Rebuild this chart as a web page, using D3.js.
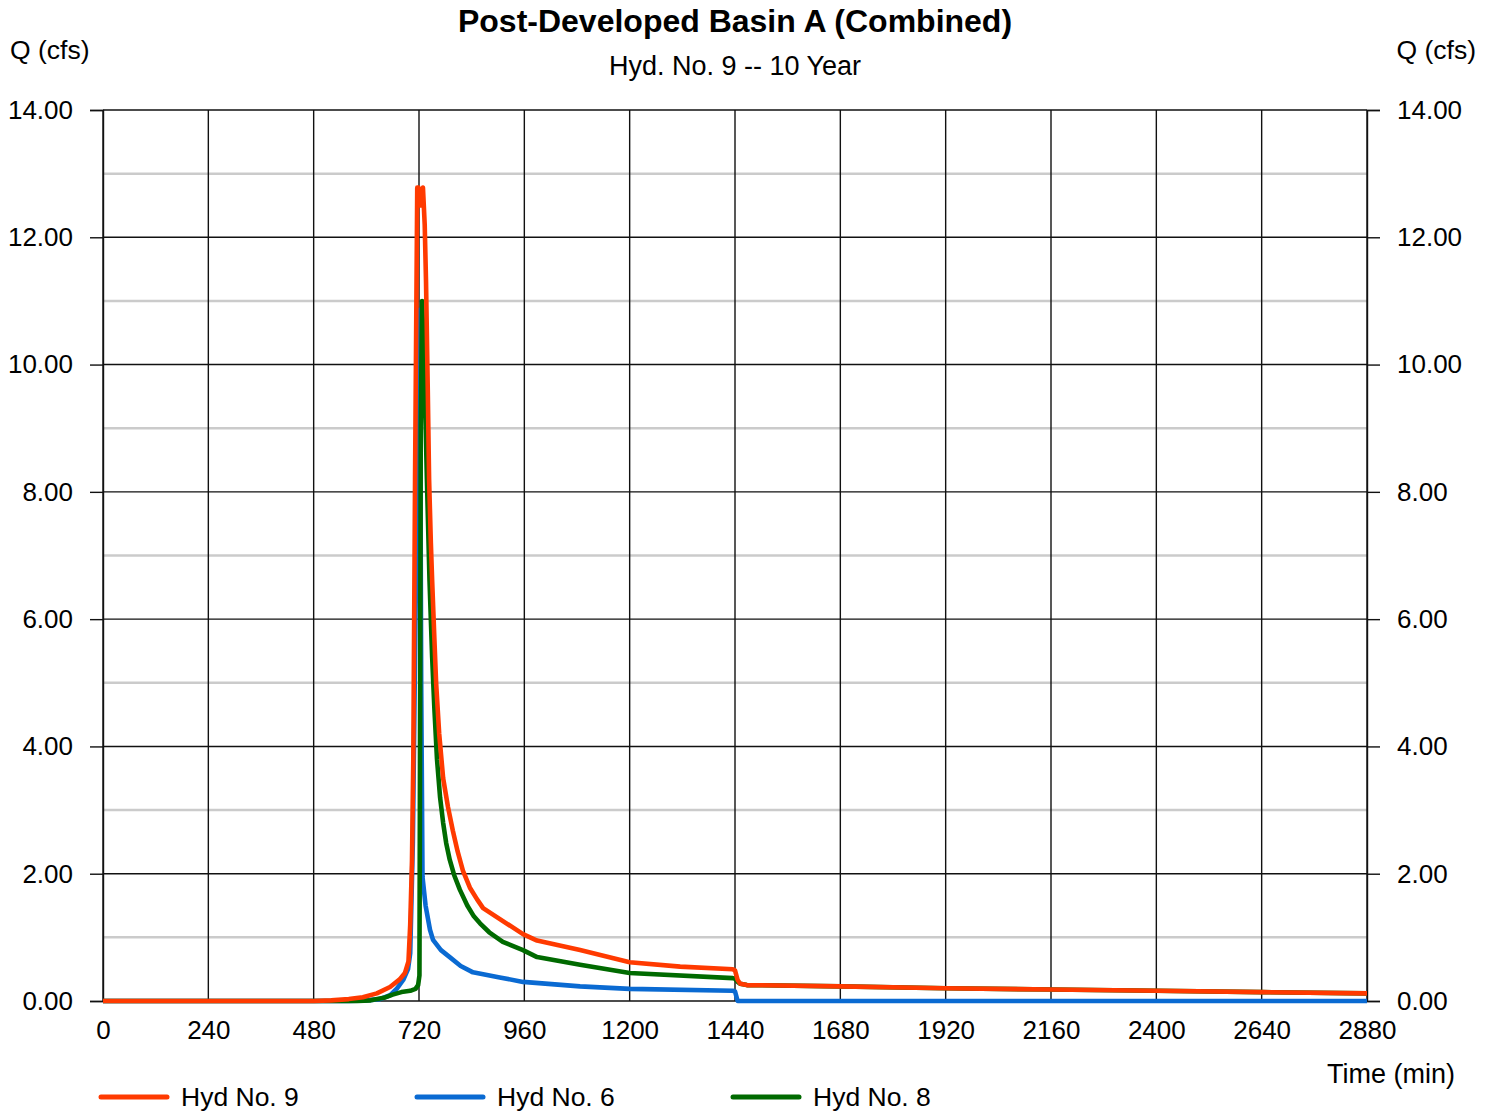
<!DOCTYPE html>
<html>
<head>
<meta charset="utf-8">
<script src="https://cdn.jsdelivr.net/npm/d3@7"></script>
<style>
  html, body { margin: 0; padding: 0; background: #fff; }
  svg { display: block; }
  text { font-family: "Liberation Sans", Arial, sans-serif; fill: #000; }
</style>
</head>
<body>
<svg id="chart" width="1494" height="1112"></svg>
<script>
const titleText = "Post-Developed Basin A (Combined)";
const subtitleText = "Hyd. No. 9 -- 10 Year";
const yAxisLabel = "Q (cfs)";
const xAxisLabel = "Time (min)";
const xTicks = [0, 240, 480, 720, 960, 1200, 1440, 1680, 1920, 2160, 2400, 2640, 2880];
const yMajorTicks = [0, 2, 4, 6, 8, 10, 12, 14];
const yMinorTicks = [1, 3, 5, 7, 9, 11, 13];
const seriesNames = ["Hyd No. 9", "Hyd No. 6", "Hyd No. 8"];
const seriesColors = ["#ff3a00", "#0a6ad2", "#006a00"];

// [time (min), Q (cfs)]
const hyd9 = [[0,0],[480,0],[520,0.01],[560,0.03],[592,0.06],[624,0.12],[654,0.22],[676,0.34],[688,0.44],[696,0.62],[700,1.2],[704,2.2],[707,3.8],[711,8.2],[716,12.78],[719,12.78],[723,12.5],[729,12.78],[733,12.2],[736,11.3],[740,9.6],[743,8.2],[747,7.2],[750,6.6],[755,5.7],[759,5.0],[766,4.2],[775,3.5],[786,3.05],[797,2.68],[808,2.35],[820,2.05],[836,1.78],[852,1.6],[866,1.46],[957,1.05],[989,0.95],[1087,0.8],[1200,0.61],[1315,0.54],[1435,0.5],[1440,0.48],[1446,0.33],[1452,0.27],[1467,0.25],[1680,0.23],[1920,0.2],[2160,0.18],[2400,0.16],[2640,0.14],[2880,0.12]];
const hyd6 = [[0,0],[560,0],[600,0.01],[631,0.03],[654,0.09],[670,0.2],[684,0.33],[695,0.5],[700,0.75],[706,2.5],[712,6.0],[718,9.6],[722,10.86],[725,5.0],[728,1.95],[735,1.5],[745,1.12],[752,0.96],[770,0.8],[790,0.69],[815,0.55],[843,0.45],[904,0.37],[957,0.3],[1087,0.23],[1200,0.19],[1435,0.16],[1440,0.15],[1446,0.0],[2880,0]];
const hyd8 = [[0,0],[580,0],[610,0.01],[640,0.05],[660,0.1],[680,0.14],[700,0.16],[712,0.19],[718,0.25],[721,0.4],[722,3.0],[724,9.0],[727,11.0],[732,10.0],[738,8.2],[744,6.6],[750,5.4],[755,4.6],[761,3.8],[768,3.2],[775,2.8],[782,2.48],[790,2.22],[800,1.98],[813,1.75],[830,1.5],[845,1.33],[859,1.22],[880,1.08],[911,0.93],[957,0.8],[989,0.69],[1087,0.57],[1200,0.44],[1435,0.36],[1440,0.35],[1446,0.3],[1452,0.27],[1467,0.25],[1680,0.23],[1920,0.2],[2160,0.18],[2400,0.16],[2640,0.14],[2880,0.12]];

const svg = d3.select("#chart");
const pL = 103, pR = 1367, pT = 110, pB = 1001;
const x = d3.scaleLinear().domain([0, 2880]).range([pL, pR]);
const y = d3.scaleLinear().domain([0, 14]).range([pB, pT]);
const FS = 26.5;
const TFS = 26;

// minor gridlines
svg.append("g").selectAll("line").data(yMinorTicks).join("line")
  .attr("x1", pL).attr("x2", pR)
  .attr("y1", d => y(d)).attr("y2", d => y(d))
  .attr("stroke", "#cbcbcb").attr("stroke-width", 2.5);

// vertical gridlines
svg.append("g").selectAll("line").data(xTicks).join("line")
  .attr("x1", d => x(d)).attr("x2", d => x(d))
  .attr("y1", pT).attr("y2", pB)
  .attr("stroke", "#111").attr("stroke-width", 1.4);

// major horizontal gridlines
svg.append("g").selectAll("line").data(yMajorTicks).join("line")
  .attr("x1", pL).attr("x2", pR)
  .attr("y1", d => y(d)).attr("y2", d => y(d))
  .attr("stroke", "#111").attr("stroke-width", 1.4);

// axes
const fmt = d3.format(".2f");
const yl = svg.append("g").attr("transform", `translate(${pL},0)`)
  .call(d3.axisLeft(y).tickValues(yMajorTicks).tickFormat(fmt).tickSize(13).tickPadding(17));
const yr = svg.append("g").attr("transform", `translate(${pR},0)`)
  .call(d3.axisRight(y).tickValues(yMajorTicks).tickFormat(fmt).tickSize(13).tickPadding(17));
const xb = svg.append("g").attr("transform", `translate(0,${pB})`)
  .call(d3.axisBottom(x).tickValues(xTicks).tickFormat(d3.format("d")).tickSize(0).tickPadding(20));
[yl, yr, xb].forEach(g => {
  g.select(".domain").attr("stroke", "#111").attr("stroke-width", 1.4);
  g.selectAll(".tick line").attr("stroke", "#111").attr("stroke-width", 1.4);
  g.selectAll(".tick text").attr("font-size", TFS).attr("fill", "#000")
    .attr("font-family", "'Liberation Sans', Arial, sans-serif");
});
xb.select(".domain").remove();

// series (blue, green, then orange on top)
const line = d3.line().x(d => x(d[0])).y(d => y(d[1]));
const drawOrder = [[hyd6, seriesColors[1]], [hyd8, seriesColors[2]], [hyd9, seriesColors[0]]];
svg.append("g").selectAll("path").data(drawOrder).join("path")
  .attr("d", d => line(d[0]))
  .attr("fill", "none").attr("stroke", d => d[1])
  .attr("stroke-width", 4.6).attr("stroke-linejoin", "round");

// titles
svg.append("text").attr("x", 735).attr("y", 32).attr("text-anchor", "middle")
  .attr("font-size", 32).attr("font-weight", "bold").text(titleText);
svg.append("text").attr("x", 735).attr("y", 75).attr("text-anchor", "middle")
  .attr("font-size", 27).text(subtitleText);
svg.append("text").attr("x", 10).attr("y", 59).attr("font-size", FS).text(yAxisLabel);
svg.append("text").attr("x", 1476).attr("y", 59).attr("text-anchor", "end").attr("font-size", FS).text(yAxisLabel);
svg.append("text").attr("x", 1455).attr("y", 1083).attr("text-anchor", "end").attr("font-size", 27).text(xAxisLabel);

// legend
const lg = svg.append("g").selectAll("g").data(seriesNames).join("g")
  .attr("transform", (d, i) => `translate(${101 + i * 316},1097)`);
lg.append("line").attr("x1", 0).attr("x2", 66).attr("y1", 0).attr("y2", 0)
  .attr("stroke", (d, i) => seriesColors[i]).attr("stroke-width", 5).attr("stroke-linecap", "round");
lg.append("text").attr("x", 80).attr("y", 9).attr("font-size", FS).text(d => d);
</script>
</body>
</html>
